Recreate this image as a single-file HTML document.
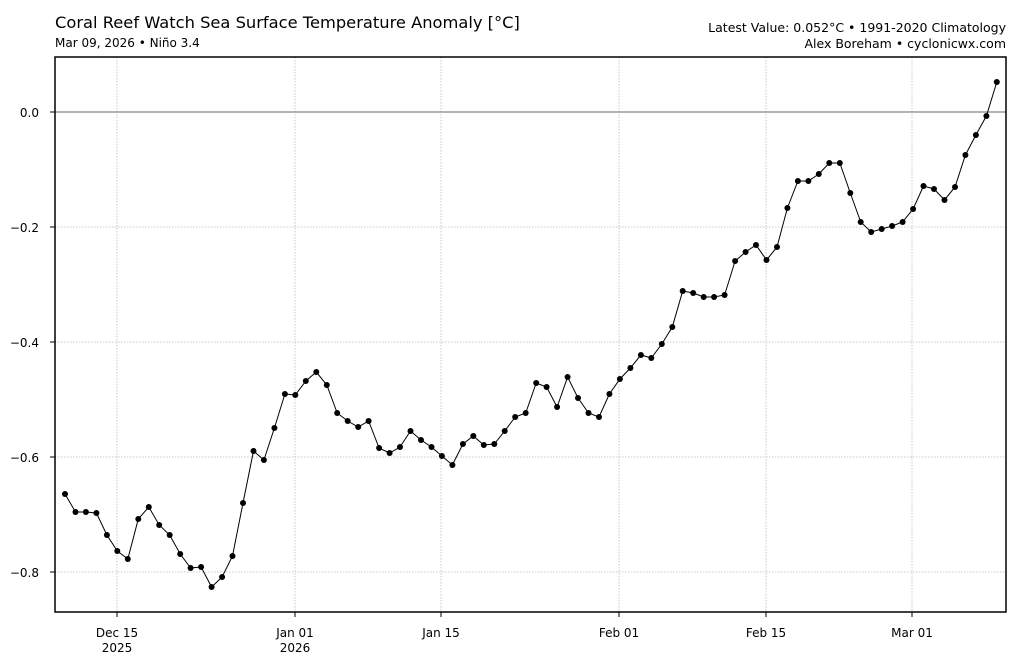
<!DOCTYPE html>
<html><head><meta charset="utf-8"><style>
html,body{margin:0;padding:0;background:#fff;}
svg{display:block;font-family:"DejaVu Sans","Liberation Sans",sans-serif;}
</style></head><body>
<svg width="1024" height="661" xmlns="http://www.w3.org/2000/svg">
<rect width="1024" height="661" fill="#fff"/>
<text x="55" y="28" font-size="16.3" fill="#000">Coral Reef Watch Sea Surface Temperature Anomaly [°C]</text>
<text x="55" y="47" font-size="12" fill="#000">Mar 09, 2026 • Niño 3.4</text>
<text x="1006" y="32" font-size="12.5" text-anchor="end" fill="#000">Latest Value: 0.052°C • 1991-2020 Climatology</text>
<text x="1006" y="48" font-size="12.5" text-anchor="end" fill="#000">Alex Boreham • cyclonicwx.com</text>
<g stroke="#bbb" stroke-width="0.8" stroke-dasharray="1.5,1.5">
<line x1="117" y1="57" x2="117" y2="612"/><line x1="295" y1="57" x2="295" y2="612"/>
<line x1="441" y1="57" x2="441" y2="612"/><line x1="619" y1="57" x2="619" y2="612"/>
<line x1="766" y1="57" x2="766" y2="612"/><line x1="912" y1="57" x2="912" y2="612"/>
<line x1="55" y1="227" x2="1006" y2="227"/><line x1="55" y1="342" x2="1006" y2="342"/>
<line x1="55" y1="457" x2="1006" y2="457"/><line x1="55" y1="572" x2="1006" y2="572"/>
</g>
<line x1="55" y1="112" x2="1006" y2="112" stroke="#888" stroke-width="1.2"/>
<g id="pts"></g>
<rect x="55" y="57" width="951" height="555" fill="none" stroke="#000" stroke-width="1.5"/>
<g stroke="#000" stroke-width="1">
<line x1="50" y1="112" x2="55" y2="112"/><line x1="50" y1="227" x2="55" y2="227"/><line x1="50" y1="342" x2="55" y2="342"/><line x1="50" y1="457" x2="55" y2="457"/><line x1="50" y1="572" x2="55" y2="572"/>
<line x1="117" y1="612" x2="117" y2="617"/><line x1="295" y1="612" x2="295" y2="617"/><line x1="441" y1="612" x2="441" y2="617"/><line x1="619" y1="612" x2="619" y2="617"/><line x1="766" y1="612" x2="766" y2="617"/><line x1="912" y1="612" x2="912" y2="617"/>
</g>
<g font-size="12" text-anchor="end" fill="#000">
<text x="39" y="117">0.0</text><text x="39" y="232">−0.2</text><text x="39" y="347">−0.4</text><text x="39" y="462">−0.6</text><text x="39" y="577">−0.8</text>
</g>
<g font-size="12" text-anchor="middle" fill="#000">
<text x="117" y="637">Dec 15</text><text x="117" y="652">2025</text>
<text x="295" y="637">Jan 01</text><text x="295" y="652">2026</text>
<text x="441" y="637">Jan 15</text><text x="619" y="637">Feb 01</text>
<text x="766" y="637">Feb 15</text><text x="912" y="637">Mar 01</text>
</g>
<script>
var ys=[494,512,512,513,535,551,559,519,507,525,535,554,568,567,587,577,556,503,451,460,428,394,395,381,372,385,413,421,427,421,448,453,447,431,440,447,456,465,444,436,445,444,431,417,413,383,387,407,377,398,413,417,394,379,368,355,358,344,327,291,293,297,297,295,261,252,245,260,247,208,181,181,174,163,163,193,222,232,229,226,222,209,186,189,200,187,155,135,116,82];
var g=document.getElementById('pts'),ns='http://www.w3.org/2000/svg',p='';
ys.forEach(function(y,i){var x=65+10.47*i;p+=(i?'L':'M')+x.toFixed(1)+','+y;var c=document.createElementNS(ns,'circle');c.setAttribute('cx',x.toFixed(1));c.setAttribute('cy',y);c.setAttribute('r','3');c.setAttribute('fill','#000');g.appendChild(c);});
var l=document.createElementNS(ns,'path');l.setAttribute('d',p);l.setAttribute('fill','none');l.setAttribute('stroke','#000');l.setAttribute('stroke-width','1');g.insertBefore(l,g.firstChild);
</script>
</svg>
</body></html>
